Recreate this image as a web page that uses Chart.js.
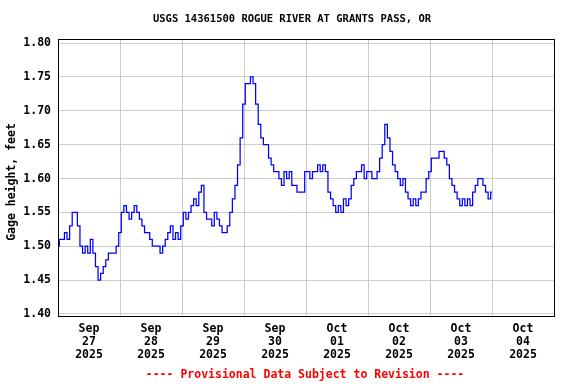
<!DOCTYPE html>
<html><head><meta charset="utf-8">
<script src="https://cdn.jsdelivr.net/npm/chart.js@4"></script>
<style>html,body{margin:0;padding:0;background:#fff}canvas{display:block}</style>
</head><body>
<canvas id="c" width="576" height="384"></canvas>
<script>
const chartTitle = 'USGS 14361500 ROGUE RIVER AT GRANTS PASS, OR';
const yAxisTitle = 'Gage height, feet';
const footerText = '---- Provisional Data Subject to Revision ----';
const dayLabels = [
  ['Sep','27','2025'],['Sep','28','2025'],['Sep','29','2025'],['Sep','30','2025'],
  ['Oct','01','2025'],['Oct','02','2025'],['Oct','03','2025'],['Oct','04','2025']
];
const yTickValues = [1.40,1.45,1.50,1.55,1.60,1.65,1.70,1.75,1.80];
// hourly gage height (feet), starting 2025-09-27 00:00
const gageHeight = [
  1.50,1.51,1.51,1.52,1.51,1.53,1.55,1.55,1.53,1.50,
  1.49,1.50,1.49,1.51,1.49,1.47,1.45,1.46,1.47,1.48,
  1.49,1.49,1.49,1.50,1.52,1.55,1.56,1.55,1.54,1.55,
  1.56,1.55,1.54,1.53,1.52,1.52,1.51,1.50,1.50,1.50,
  1.49,1.50,1.51,1.52,1.53,1.51,1.52,1.51,1.53,1.55,
  1.54,1.55,1.56,1.57,1.56,1.58,1.59,1.55,1.54,1.54,
  1.53,1.55,1.54,1.53,1.52,1.52,1.53,1.55,1.57,1.59,
  1.62,1.66,1.71,1.74,1.74,1.75,1.74,1.71,1.68,1.66,
  1.65,1.65,1.63,1.62,1.61,1.61,1.60,1.59,1.61,1.60,
  1.61,1.59,1.59,1.58,1.58,1.58,1.61,1.61,1.60,1.61,
  1.61,1.62,1.61,1.62,1.61,1.58,1.57,1.56,1.55,1.56,
  1.55,1.57,1.56,1.57,1.59,1.60,1.61,1.61,1.62,1.60,
  1.61,1.61,1.60,1.60,1.61,1.63,1.65,1.68,1.66,1.64,
  1.62,1.61,1.60,1.59,1.60,1.58,1.57,1.56,1.57,1.56,
  1.57,1.58,1.58,1.60,1.61,1.63,1.63,1.63,1.64,1.64,
  1.63,1.62,1.60,1.59,1.58,1.57,1.56,1.57,1.56,1.57,
  1.56,1.58,1.59,1.60,1.60,1.59,1.58,1.57,1.58
];
const HOURS_PER_DAY = 24;
const FONT = "'DejaVu Sans Mono', monospace";

const points = gageHeight.map((v, i) => ({x: i, y: v}));
const xMax = dayLabels.length * HOURS_PER_DAY;

const decor = {
  id: 'decor',
  afterDraw(chart) {
    const {ctx, chartArea: a} = chart;
    ctx.save();
    ctx.strokeStyle = '#000';
    ctx.lineWidth = 1;
    ctx.strokeRect(a.left + 0.5, a.top + 0.5, a.right - a.left, a.bottom - a.top);
    ctx.fillStyle = '#000';
    ctx.textAlign = 'center';
    ctx.textBaseline = 'middle';
    ctx.font = "bold 10.5px " + FONT;
    ctx.fillText(chartTitle, 292, 19);
    ctx.font = "bold 11.5px " + FONT;
    ctx.save();
    ctx.translate(12, 182);
    ctx.rotate(-Math.PI / 2);
    ctx.fillText(yAxisTitle, 0, 0);
    ctx.restore();
    ctx.fillStyle = '#ff0000';
    ctx.fillText(footerText, 305, 375);
    ctx.restore();
  }
};

new Chart(document.getElementById('c'), {
  type: 'line',
  data: { datasets: [{
    data: points,
    borderColor: '#0000ff',
    borderWidth: 1.25,
    pointRadius: 0,
    stepped: 'middle',
    fill: false
  }]},
  options: {
    responsive: false,
    animation: false,
    devicePixelRatio: 1,
    layout: { padding: {left: 0, right: 22, top: 39, bottom: 0} },
    plugins: { legend: {display: false}, tooltip: {enabled: false}, title: {display: false} },
    scales: {
      x: {
        type: 'linear', min: 0, max: xMax,
        afterBuildTicks(s) {
          const t = [];
          for (let v = 0; v <= xMax; v += HOURS_PER_DAY / 2) t.push({value: v});
          s.ticks = t;
        },
        afterFit(s) { s.height = 68; },
        border: {display: false},
        grid: {
          drawTicks: false,
          lineWidth: 1,
          color: c => (c.tick && c.tick.value % HOURS_PER_DAY === 0) ? '#cccccc' : 'rgba(0,0,0,0)'
        },
        ticks: {
          autoSkip: false, maxRotation: 0, padding: 7,
          color: '#000',
          font: {family: FONT, size: 11.5, weight: 'bold', lineHeight: 1.13},
          callback: v => (v % HOURS_PER_DAY === HOURS_PER_DAY / 2) ? dayLabels[Math.floor(v / HOURS_PER_DAY)] : ''
        }
      },
      y: {
        type: 'linear', min: 1.397, max: 1.806,
        afterBuildTicks(s) { s.ticks = yTickValues.map(v => ({value: v})); },
        afterFit(s) { s.width = 58; },
        border: {display: false},
        grid: { drawTicks: false, color: '#cccccc', lineWidth: 1 },
        ticks: {
          padding: 7, color: '#000',
          font: {family: FONT, size: 11.5, weight: 'bold'},
          callback: v => v.toFixed(2)
        }
      }
    }
  },
  plugins: [decor]
});
</script>
</body></html>
